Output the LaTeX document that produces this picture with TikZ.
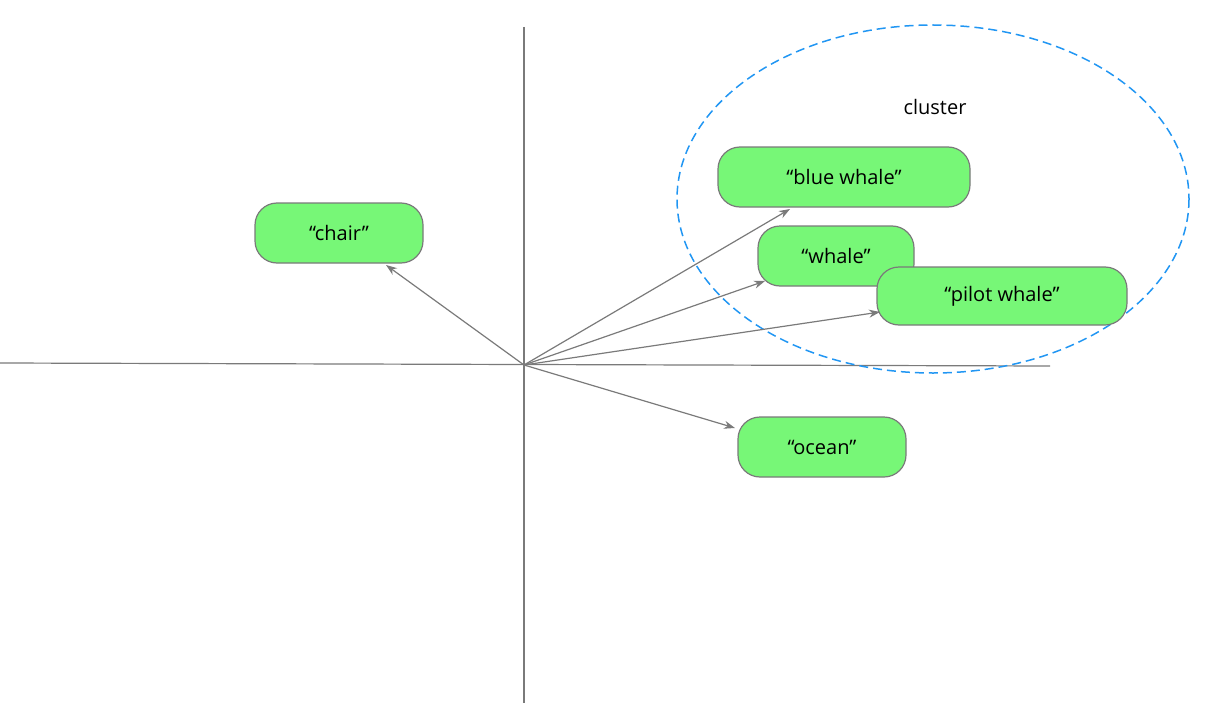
\documentclass[tikz,border=0pt]{standalone}
\usepackage{fontspec}
\setmainfont{Open Sans}
\usetikzlibrary{arrows.meta}
\definecolor{wordfill}{HTML}{77F777}
\definecolor{wordline}{HTML}{7A7A7A}
\definecolor{clusterblue}{HTML}{2196F3}
\begin{document}
\begin{tikzpicture}[x=1pt,y=-1pt,
  word/.style={draw=wordline,fill=wordfill,line width=1.2pt,rounded corners=22pt,
    inner sep=0pt,font=\fontsize{20}{24}\selectfont},
  vec/.style={draw=wordline,line width=1.2pt,-{Stealth[length=11pt,width=8pt]}}]
\useasboundingbox (0,0) rectangle (1217,706);
% axes
\draw[wordline,line width=1.2pt] (0,363) -- (1050,366);
\draw[wordline,line width=1.2pt] (524,27) -- (524,703);
\coordinate (o) at (524,365);
% cluster
\draw[clusterblue,line width=1.5pt,dash pattern=on 9pt off 5pt] (933,199) ellipse (256 and 174);
\node[font=\fontsize{20}{24}\selectfont] (cl) at (935,107) {cluster};
% words
\node[word,minimum width=168pt,minimum height=60pt] (chair) at (339,233) {“chair”};
\node[word,minimum width=252pt,minimum height=60pt] (blue) at (844,177) {“blue whale”};
\node[word,minimum width=156pt,minimum height=60pt] (whale) at (836,256) {“whale”};
\node[word,minimum width=250pt,minimum height=58pt] (pilot) at (1002,296) {“pilot whale”};
\node[word,minimum width=168pt,minimum height=60pt] (ocean) at (822,447) {“ocean”};
% vectors
\coordinate (tchair) at (386,265);
\coordinate (tblue) at (790,209);
\coordinate (twhale) at (765,281);
\coordinate (tpilot) at (880,312);
\coordinate (tocean) at (735,428);
\foreach \t in {tchair,tblue,twhale,tpilot,tocean}
  \draw[vec] (o) -- (\t);
\end{tikzpicture}
\end{document}
